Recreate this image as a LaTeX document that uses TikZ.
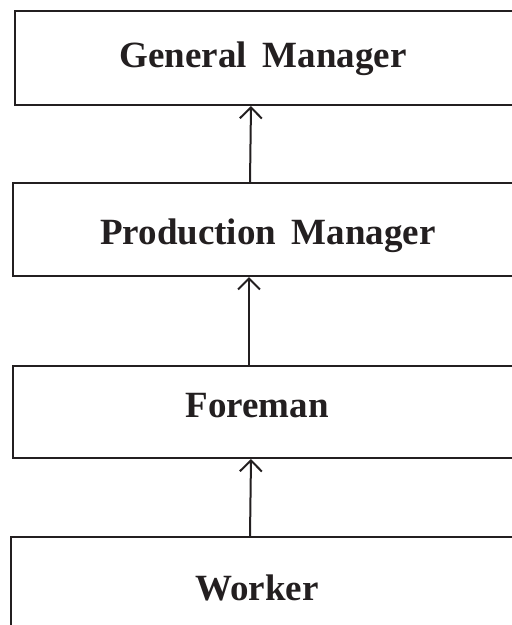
\documentclass[tikz,border=0pt]{standalone}
\usepackage{fontspec}
\setmainfont{Liberation Serif}[WordSpace=1.7]
\usepackage{tikz}
\usetikzlibrary{arrows.meta,positioning}
\definecolor{ink}{HTML}{231F20}
\tikzset{
    %Define standard arrow tip
    >={Straight Barb[length=11pt,width=22pt]},
    %Define style for boxes
    stilling/.style={
           rectangle,
           draw=ink, line width=2pt,
           minimum width=500pt,
           inner sep=0pt},
    tekst/.style={
           anchor=base,
           text=ink,
           inner sep=0pt,
           font=\fontsize{37}{40}\selectfont\bfseries},
    % Define arrow style
    pil/.style={
           ->,
           draw=ink,
           line width=2pt}
}
\begin{document}
\begin{tikzpicture}[x=1pt,y=-1pt]
\path[use as bounding box] (0,0) rectangle (512,625);
\clip (0,0) rectangle (512,625);
\node[stilling, minimum height=94pt](gm) at (265,58) {};
\node[stilling, minimum width=502pt, minimum height=93pt](pm) at (264,229.5) {};
\node[stilling, minimum width=502pt, minimum height=92pt](fm) at (264,412) {};
\node[stilling, minimum width=504pt, minimum height=123pt](wk) at (263,598.5) {};
\node[tekst](gmt) at (263,67) {General Manager};
\node[tekst](pmt) at (268,244) {Production Manager};
\node[tekst](fmt) at (257,417) {Foreman};
\node[tekst](wkt) at (257,600) {Worker};
\draw[pil] ([xshift=-14]pm.north) -- ([xshift=-14]gm.south);
\draw[pil] ([xshift=-15]fm.north) -- ([xshift=-15]pm.south);
\draw[pil] ([xshift=-13]wk.north) -- ([xshift=-13]fm.south);
\end{tikzpicture}
\end{document}
